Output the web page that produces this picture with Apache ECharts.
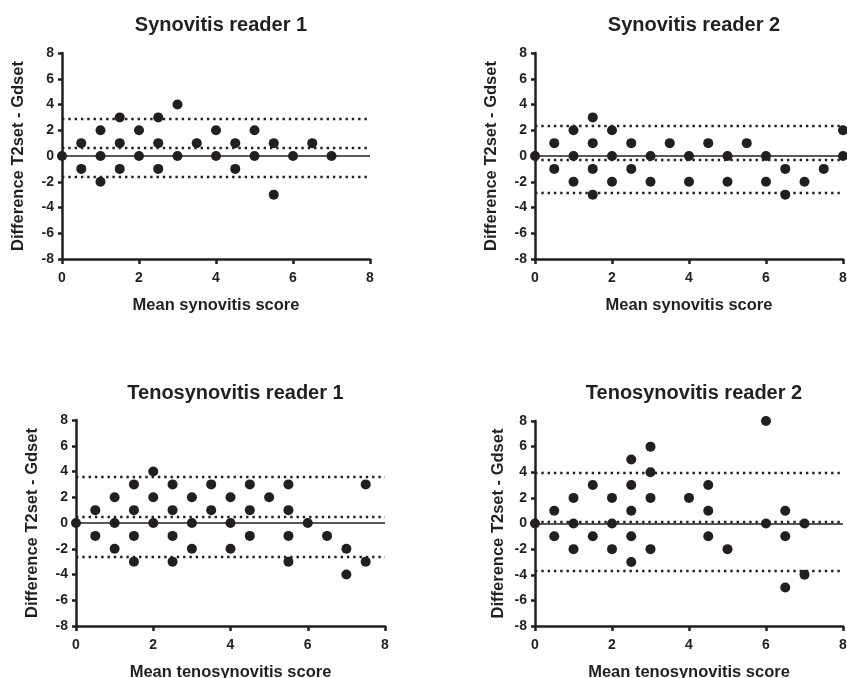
<!DOCTYPE html>
<html><head><meta charset="utf-8">
<script src="https://cdn.jsdelivr.net/npm/echarts@6/dist/echarts.min.js"></script>
<style>html,body{margin:0;padding:0;background:#fff}#c{width:847px;height:678px}</style>
</head><body><div id="c"></div>
<script>
const titles = ['Synovitis reader 1', 'Synovitis reader 2', 'Tenosynovitis reader 1', 'Tenosynovitis reader 2'];
const xNames = ['Mean synovitis score', 'Mean synovitis score', 'Mean tenosynovitis score', 'Mean tenosynovitis score'];
const yName = 'Difference T2set - Gdset';

const syn1X = [0,0.5,0.5,1,1,1,1.5,1.5,1.5,2,2,2.5,2.5,2.5,3,3,3.5,4,4,4.5,4.5,5,5,5.5,5.5,6,6.5,7];
const syn1Y = [0,1,-1,2,0,-2,3,1,-1,2,0,3,1,-1,4,0,1,2,0,1,-1,2,0,1,-3,0,1,0];
const syn1Limits = [2.87, 0.64, -1.6];

const syn2X = [0,0.5,0.5,1,1,1,1.5,1.5,1.5,1.5,2,2,2,2.5,2.5,3,3,3.5,4,4,4.5,5,5,5.5,6,6,6.5,6.5,7,7.5,8,8];
const syn2Y = [0,1,-1,2,0,-2,3,1,-1,-3,2,0,-2,1,-1,0,-2,1,0,-2,1,0,-2,1,0,-2,-1,-3,-2,-1,2,0];
const syn2Limits = [2.33, -0.27, -2.85];

const ten1X = [0,0.5,0.5,1,1,1,1.5,1.5,1.5,1.5,2,2,2,2.5,2.5,2.5,2.5,3,3,3,3.5,3.5,4,4,4,4.5,4.5,4.5,5,5.5,5.5,5.5,5.5,6,6.5,7,7,7.5,7.5];
const ten1Y = [0,1,-1,2,0,-2,3,1,-1,-3,4,2,0,3,1,-1,-3,2,0,-2,3,1,2,0,-2,3,1,-1,2,3,1,-1,-3,0,-1,-2,-4,3,-3];
const ten1Limits = [3.57, 0.47, -2.66];

const ten2X = [0,0.5,0.5,1,1,1,1.5,1.5,2,2,2,2.5,2.5,2.5,2.5,2.5,3,3,3,3,4,4.5,4.5,4.5,5,6,6,6.5,6.5,6.5,7,7];
const ten2Y = [0,1,-1,2,0,-2,3,-1,2,0,-2,5,3,1,-1,-3,6,4,2,-2,2,3,1,-1,-2,8,0,1,-1,-5,0,-4];
const ten2Limits = [4.0, 0.16, -3.7];

const panelsX = [syn1X, syn2X, ten1X, ten2X];
const panelsY = [syn1Y, syn2Y, ten1Y, ten2Y];
const panelsLimits = [syn1Limits, syn2Limits, ten1Limits, ten2Limits];

const ink = '#231f20';
const fontFamily = '"Liberation Sans", Arial, Helvetica, sans-serif';
const grids = [
  {left: 62, top: 53, width: 308, height: 206},
  {left: 535, top: 53, width: 308, height: 206},
  {left: 76, top: 420, width: 309, height: 206},
  {left: 535, top: 421, width: 308, height: 205}
];
const titleTops = [10, 10, 378, 378];
const yGaps = [35, 35, 35, 28];
const xGaps = [38, 38, 38, 38];

const option = {
  animation: false,
  backgroundColor: '#fff',
  title: titles.map((t, i) => ({
    text: t,
    left: grids[i].left + grids[i].width / 2,
    top: titleTops[i],
    textAlign: 'center',
    textStyle: {fontFamily, fontWeight: 'bold', fontSize: 20, color: ink}
  })),
  grid: grids.map(g => Object.assign({containLabel: false, outerBoundsMode: 'none'}, g)),
  xAxis: grids.map((g, i) => ({
    gridIndex: i, type: 'value', min: 0, max: 8, interval: 2,
    name: xNames[i], nameLocation: 'middle', nameGap: xGaps[i],
    nameTextStyle: {fontFamily, fontWeight: 'bold', fontSize: 16.5, color: ink},
    axisLine: {onZero: false, lineStyle: {color: ink, width: 2.5}},
    axisTick: {show: true, length: 5, lineStyle: {color: ink, width: 2.5}},
    axisLabel: {margin: 12, fontFamily, fontWeight: 'bold', fontSize: 14, color: ink},
    splitLine: {show: false}
  })),
  yAxis: grids.map((g, i) => ({
    gridIndex: i, type: 'value', min: -8, max: 8, interval: 2,
    name: yName, nameLocation: 'middle', nameGap: yGaps[i], nameRotate: 90,
    nameTextStyle: {fontFamily, fontWeight: 'bold', fontSize: 16.5, color: ink},
    axisLine: {show: true, onZero: false, lineStyle: {color: ink, width: 2.5}},
    axisTick: {show: true, length: 4, lineStyle: {color: ink, width: 2.5}},
    axisLabel: {margin: 8, fontFamily, fontWeight: 'bold', fontSize: 14, color: ink},
    splitLine: {show: false}
  })),
  series: panelsX.map((xs, i) => ({
    type: 'scatter',
    xAxisIndex: i, yAxisIndex: i,
    symbol: 'circle', symbolSize: 10,
    itemStyle: {color: ink, opacity: 1},
    clip: false,
    data: xs.map((x, k) => [x, panelsY[i][k]]),
    z: 5,
    markLine: {
      silent: true,
      symbol: ['none', 'none'],
      label: {show: false},
      emphasis: {disabled: true},
      data: [
        {yAxis: 0, lineStyle: {type: 'solid', width: 1.6, color: ink, opacity: 1}},
        {yAxis: panelsLimits[i][0], lineStyle: {type: [2.4, 3.9], width: 2.4, color: ink, opacity: 1}},
        {yAxis: panelsLimits[i][1], lineStyle: {type: [2.4, 3.9], width: 2.4, color: ink, opacity: 1}},
        {yAxis: panelsLimits[i][2], lineStyle: {type: [2.4, 3.9], width: 2.4, color: ink, opacity: 1}}
      ]
    }
  }))
};

const chart = echarts.init(document.getElementById('c'), null, {renderer: 'canvas'});
chart.setOption(option);
</script>
</body></html>
